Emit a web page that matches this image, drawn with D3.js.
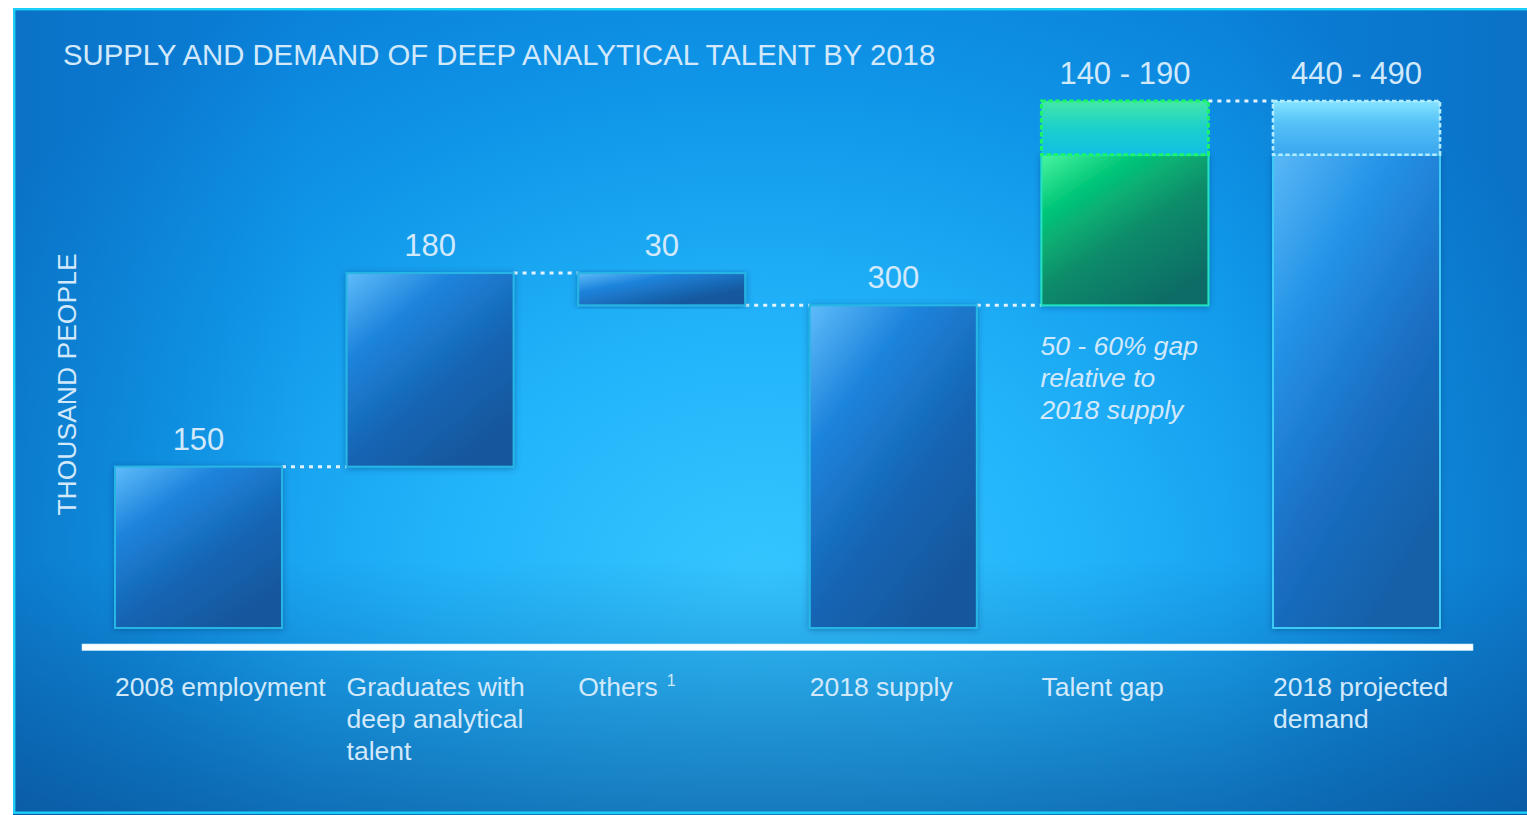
<!DOCTYPE html>
<html>
<head>
<meta charset="utf-8">
<script src="https://cdn.jsdelivr.net/npm/d3@7"></script>
<style>
  html, body { margin: 0; padding: 0; background: #ffffff; overflow: hidden; }
  svg { display: block; }
  text { font-family: "Liberation Sans", Arial, sans-serif; }
</style>
</head>
<body>
<svg id="chart" width="1527" height="815"></svg>
<script>
// ---------------- DATA ----------------
const categories = ["2008 employment", "Graduates with deep analytical talent", "Others", "2018 supply", "Talent gap", "2018 projected demand"];
const categoryLines = [["2008 employment"], ["Graduates with", "deep analytical", "talent"], ["Others"], ["2018 supply"], ["Talent gap"], ["2018 projected", "demand"]];
const barStart = [0, 150, 330, 0, 300, 0];      // thousand people
const barEnd   = [150, 330, 300, 300, 440, 440]; // thousand people (low estimate)
const rangeHigh = [null, null, null, null, 490, 490]; // upper estimate
const valueLabels = ["150", "180", "30", "300", "140 - 190", "440 - 490"];
const barKind = ["blue", "blue", "blue", "blue", "green", "demand"];
const footnoteMarks = ["", "", "1", "", "", ""];
const annotationLines = ["50 - 60% gap", "relative to", "2018 supply"];
const titleText = "SUPPLY AND DEMAND OF DEEP ANALYTICAL TALENT BY 2018";
const yAxisTitle = "THOUSAND PEOPLE";
const yMax = 490;

// ---------------- SETUP ----------------
const svg = d3.select("#chart");
const defs = svg.append("defs");

const x = d3.scaleBand().domain(categories).range([115, 1440]).paddingInner(0.279).paddingOuter(0);
const y = d3.scaleLinear().domain([0, yMax]).range([628, 101]);

// background gradients
const bg = defs.append("radialGradient").attr("id", "bgRad")
  .attr("gradientUnits", "userSpaceOnUse").attr("cx", 760).attr("cy", 580).attr("r", 900)
  .attr("gradientTransform", "translate(760,580) scale(1,0.78) translate(-760,-580)");
[[0, "#35c6ff"], [0.35, "#22b4fa"], [0.7, "#0f96e8"], [1, "#0a7fd8"]].forEach(s =>
  bg.append("stop").attr("offset", s[0]).attr("stop-color", s[1]));

const bgBot = defs.append("linearGradient").attr("id", "bgBot")
  .attr("gradientUnits", "userSpaceOnUse").attr("x1", 0).attr("y1", 560).attr("x2", 0).attr("y2", 815);
bgBot.append("stop").attr("offset", 0).attr("stop-color", "#0a3f80").attr("stop-opacity", 0);
bgBot.append("stop").attr("offset", 1).attr("stop-color", "#0a3f80").attr("stop-opacity", 0.5);

const bgSide = defs.append("linearGradient").attr("id", "bgSide")
  .attr("gradientUnits", "userSpaceOnUse").attr("x1", 0).attr("y1", 0).attr("x2", 1527).attr("y2", 0);
bgSide.append("stop").attr("offset", 0).attr("stop-color", "#0a4a90").attr("stop-opacity", 0.25);
bgSide.append("stop").attr("offset", 0.2).attr("stop-color", "#0a4a90").attr("stop-opacity", 0);
bgSide.append("stop").attr("offset", 0.8).attr("stop-color", "#0a4a90").attr("stop-opacity", 0);
bgSide.append("stop").attr("offset", 1).attr("stop-color", "#0a4a90").attr("stop-opacity", 0.25);

function linGrad(id, stops, x2, y2) {
  const g = defs.append("linearGradient").attr("id", id)
    .attr("x1", 0).attr("y1", 0).attr("x2", x2).attr("y2", y2);
  stops.forEach(s => g.append("stop").attr("offset", s[0]).attr("stop-color", s[1]));
}
linGrad("gBlue", [[0, "#5fbcfa"], [0.3, "#1d84dc"], [0.65, "#1765b4"], [1, "#15569c"]], 0.7, 1);
linGrad("gBlueShort", [[0, "#5fbcfa"], [0.3, "#1d84dc"], [0.75, "#16599f"], [1, "#15569c"]], 1, 1);
linGrad("gGreen", [[0, "#48f5a0"], [0.25, "#05c97a"], [0.6, "#0a8c6a"], [1, "#0b6c66"]], 0.7, 1);
linGrad("gGreenTop", [[0, "#44e8a8"], [0.5, "#1cd0cc"], [1, "#10bfe4"]], 0, 1);
linGrad("gDemand", [[0, "#5ab8f6"], [0.3, "#2594e8"], [0.65, "#1a6fc4"], [1, "#1660a8"]], 0.6, 1);
linGrad("gDemandTop", [[0, "#86e4ff"], [0.4, "#55c2f8"], [1, "#3aa6ee"]], 0, 1);

const shadow = defs.append("filter").attr("id", "shadow").attr("x", "-10%").attr("y", "-10%").attr("width", "120%").attr("height", "120%");
shadow.append("feDropShadow").attr("dx", 0).attr("dy", 1).attr("stdDeviation", 3)
  .attr("flood-color", "#0a3c78").attr("flood-opacity", 0.45);

// ---------------- BACKGROUND ----------------
svg.append("rect").attr("x", 13).attr("y", 8).attr("width", 1520).attr("height", 808).attr("fill", "url(#bgRad)");
svg.append("rect").attr("x", 13).attr("y", 8).attr("width", 1520).attr("height", 808).attr("fill", "url(#bgSide)");
svg.append("rect").attr("x", 13).attr("y", 8).attr("width", 1520).attr("height", 808).attr("fill", "url(#bgBot)");
svg.append("rect").attr("x", 14.2).attr("y", 9.2).attr("width", 1520).attr("height", 803.5)
  .attr("fill", "none").attr("stroke", "#1ccff6").attr("stroke-width", 2.4);

// ---------------- TITLE ----------------
const textColor = "#d2e9fc";
svg.append("text").attr("x", 63).attr("y", 65)
  .attr("font-size", 29.3).attr("fill", textColor).text(titleText);

svg.append("text")
  .attr("transform", `translate(76,${(y(0) + y(yMax)) / 2 + 20}) rotate(-90)`)
  .attr("text-anchor", "middle").attr("font-size", 26.5).attr("fill", textColor)
  .text(yAxisTitle);

// ---------------- CONNECTORS ----------------
const connectorLevels = barEnd.map((v, i) => rangeHigh[i] != null ? rangeHigh[i] : v);
const g = svg.append("g");
for (let i = 0; i < categories.length - 1; i++) {
  const level = connectorLevels[i];
  g.append("line")
    .attr("x1", x(categories[i]) + x.bandwidth()).attr("x2", x(categories[i + 1]))
    .attr("y1", y(level)).attr("y2", y(level))
    .attr("stroke", "#e2f3ff").attr("stroke-width", 3).attr("stroke-dasharray", "4,5");
}

// ---------------- BARS ----------------
const bars = svg.append("g");
categories.forEach((c, i) => {
  const top = Math.max(barStart[i], barEnd[i]);
  const bot = Math.min(barStart[i], barEnd[i]);
  const h = y(bot) - y(top);
  let fill = "url(#gBlue)", stroke = "#27b6e6";
  if (barKind[i] === "green") { fill = "url(#gGreen)"; stroke = "#22e2c2"; }
  if (barKind[i] === "demand") { fill = "url(#gDemand)"; stroke = "#3ccaf4"; }
  if (barKind[i] === "blue" && h < 60) fill = "url(#gBlueShort)";
  bars.append("rect")
    .attr("x", x(c)).attr("y", y(top)).attr("width", x.bandwidth()).attr("height", h)
    .attr("fill", fill).attr("stroke", stroke).attr("stroke-width", 2)
    .attr("filter", "url(#shadow)");
  if (rangeHigh[i] != null) {
    const isGreen = barKind[i] === "green";
    bars.append("rect")
      .attr("x", x(c)).attr("y", y(rangeHigh[i])).attr("width", x.bandwidth())
      .attr("height", y(barEnd[i]) - y(rangeHigh[i]))
      .attr("fill", isGreen ? "url(#gGreenTop)" : "url(#gDemandTop)")
      .attr("stroke", isGreen ? "#1cf56a" : "#b4ecff")
      .attr("stroke-width", isGreen ? 3 : 2.6).attr("stroke-dasharray", "4.5,2.5");
  }
});

// ---------------- VALUE LABELS ----------------
categories.forEach((c, i) => {
  const top = rangeHigh[i] != null ? rangeHigh[i] : Math.max(barStart[i], barEnd[i]);
  svg.append("text")
    .attr("x", x(c) + x.bandwidth() / 2).attr("y", y(top) - 17)
    .attr("text-anchor", "middle").attr("font-size", 31).attr("fill", textColor)
    .text(valueLabels[i]);
});

// ---------------- ANNOTATION ----------------
const annX = x("Talent gap") - 1;
annotationLines.forEach((t, k) => {
  svg.append("text").attr("x", annX).attr("y", 355 + k * 32)
    .attr("font-size", 26.5).attr("font-style", "italic").attr("fill", textColor).text(t);
});

// ---------------- BASELINE ----------------
svg.append("rect").attr("x", 82).attr("y", y(0) + 16).attr("width", 1391).attr("height", 6.5)
  .attr("fill", "#ffffff").attr("stroke", "#bfe6ff").attr("stroke-width", 0.6);

// ---------------- CATEGORY LABELS ----------------
categories.forEach((c, i) => {
  const t = svg.append("text").attr("x", x(c)).attr("y", 696)
    .attr("font-size", 26.5).attr("fill", textColor);
  categoryLines[i].forEach((line, k) => {
    t.append("tspan").attr("x", x(c)).attr("dy", k === 0 ? 0 : 32).text(line);
  });
  if (footnoteMarks[i]) {
    const len = t.node().getComputedTextLength();
    svg.append("text").attr("x", x(c) + len + 9).attr("y", 686)
      .attr("font-size", 16).attr("fill", textColor).text(footnoteMarks[i]);
  }
});
</script>
</body>
</html>
